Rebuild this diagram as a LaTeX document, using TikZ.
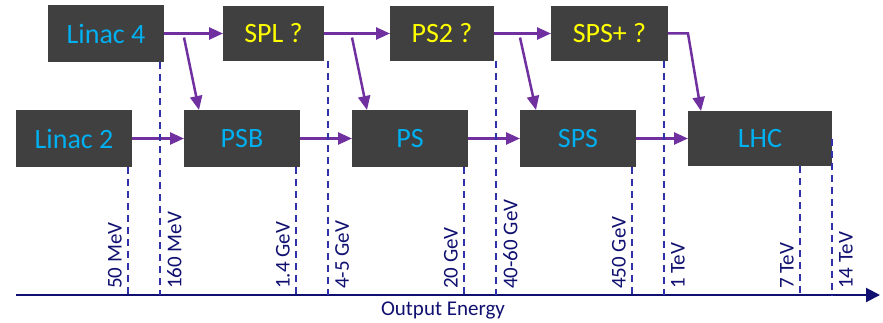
\documentclass[tikz,border=0pt]{standalone}
\usepackage{fontspec}
\setmainfont{Carlito}
\usepackage{tikz}
\usetikzlibrary{positioning,arrows.meta,calc}

\definecolor{boxgray}{RGB}{64,64,64}
\definecolor{beamblue}{RGB}{0,176,240}
\definecolor{planyellow}{RGB}{255,255,0}
\definecolor{flowpurple}{RGB}{112,48,160}
\definecolor{marknavy}{RGB}{48,48,168}
\definecolor{axisnavy}{RGB}{16,16,112}

\begin{document}
\begin{tikzpicture}[
    x=1pt,y=1pt,
    machine/.style={fill=boxgray,text=beamblue,inner sep=0pt,outer sep=0pt,minimum width=116pt,minimum height=57pt,font=\fontsize{28}{34}\selectfont},
    planned/.style={machine,text=planyellow,minimum height=55pt},
    flow/.style={-{Triangle[length=14pt,width=12pt]},draw=flowpurple,line width=2.5pt},
    marker/.style={draw=marknavy,line width=2pt,dash pattern=on 7pt off 5pt},
    energyl/.style={rotate=90,anchor=south west,inner sep=0pt,text=axisnavy,font=\fontsize{21}{25}\selectfont},
    energyr/.style={energyl,anchor=north west},
    axisline/.style={-{Triangle[length=14pt,width=14pt]},draw=axisnavy,line width=2pt},
  ]
    \useasboundingbox (0,0) rectangle (883,322);

    % present chain
    \node[machine] (linac2) at (74,183.5) {Linac 2};
    \node[machine,right=52pt of linac2] (psb) {PSB};
    \node[machine,right=52pt of psb] (ps) {PS};
    \node[machine,right=52pt of ps] (sps) {SPS};
    \node[machine,right=52pt of sps,minimum width=144pt,minimum height=55pt] (lhc) {LHC};

    % upgrade chain
    \node[machine] (linac4) at (106,288.5) {Linac 4};
    \node[planned,right=59pt of linac4,minimum width=101pt] (spl) {SPL ?};
    \node[planned,right=66pt of spl,minimum width=104pt] (ps2) {PS2 ?};
    \node[planned,right=57pt of ps2,minimum width=117pt] (spsplus) {SPS+ ?};

    \draw[flow] (linac2) -- (psb);
    \draw[flow] (psb) -- (ps);
    \draw[flow] (ps) -- (sps);
    \draw[flow] (sps) -- (lhc);
    \draw[flow] (linac4) -- (spl);
    \draw[flow] (spl) -- (ps2);
    \draw[flow] (ps2) -- (spsplus);
    \draw[flow] ($(psb.north west |- linac4.east)+(0,-4)$) -- ([xshift=15pt]psb.north west);
    \draw[flow] ($(ps.north west |- spl.east)+(0,-4)$) -- ([xshift=15pt]ps.north west);
    \draw[flow] ($(sps.north west |- ps2.east)+(0,-4)$) -- ([xshift=16pt]sps.north west);
    \draw[flow] (spsplus.east) -- ++(20,0) -- ([xshift=13pt]lhc.north west);

    % energy axis
    \coordinate (ax0) at (16,27);
    \coordinate (ax1) at (880,27);
    \draw[axisline] (ax0) -- (ax1);
    \node[text=axisnavy,font=\fontsize{21}{25}\selectfont] (axlabel) at (443,12) {Output Energy};

    \coordinate (t1) at (128,27);
    \coordinate (t2) at (160,27);
    \coordinate (t3) at (296,27);
    \coordinate (t4) at (328,27);
    \coordinate (t5) at (464,27);
    \coordinate (t6) at (496,27);
    \coordinate (t7) at (632,27);
    \coordinate (t8) at (664,27);
    \coordinate (t9) at (800,27);
    \coordinate (t10) at (832,27);

    \draw[marker] (linac2.south -| t1) -- (t1);
    \draw[marker] (linac4.south -| t2) -- (t2);
    \draw[marker] (psb.south -| t3) -- (t3);
    \draw[marker] (spl.south -| t4) -- (t4);
    \draw[marker] (ps.south -| t5) -- (t5);
    \draw[marker] (ps2.south -| t6) -- (t6);
    \draw[marker] (sps.south -| t7) -- (t7);
    \draw[marker] (spsplus.south -| t8) -- (t8);
    \draw[marker] (lhc.south -| t9) -- (t9);
    \draw[marker] (lhc.east -| t10) -- (t10);

    \node[energyl] (e1) at ($(t1)+(-6,6)$) {50 MeV};
    \node[energyr] (e2) at ($(t2)+(7,6)$) {160 MeV};
    \node[energyl] (e3) at ($(t3)+(-6,6)$) {1.4 GeV};
    \node[energyr] (e4) at ($(t4)+(7,6)$) {4-5 GeV};
    \node[energyl] (e5) at ($(t5)+(-6,6)$) {20 GeV};
    \node[energyr] (e6) at ($(t6)+(7,6)$) {40-60 GeV};
    \node[energyl] (e7) at ($(t7)+(-6,6)$) {450 GeV};
    \node[energyr] (e8) at ($(t8)+(7,6)$) {1 TeV};
    \node[energyl] (e9) at ($(t9)+(-6,6)$) {7 TeV};
    \node[energyr] (e10) at ($(t10)+(7,6)$) {14 TeV};
  \end{tikzpicture}
\end{document}
